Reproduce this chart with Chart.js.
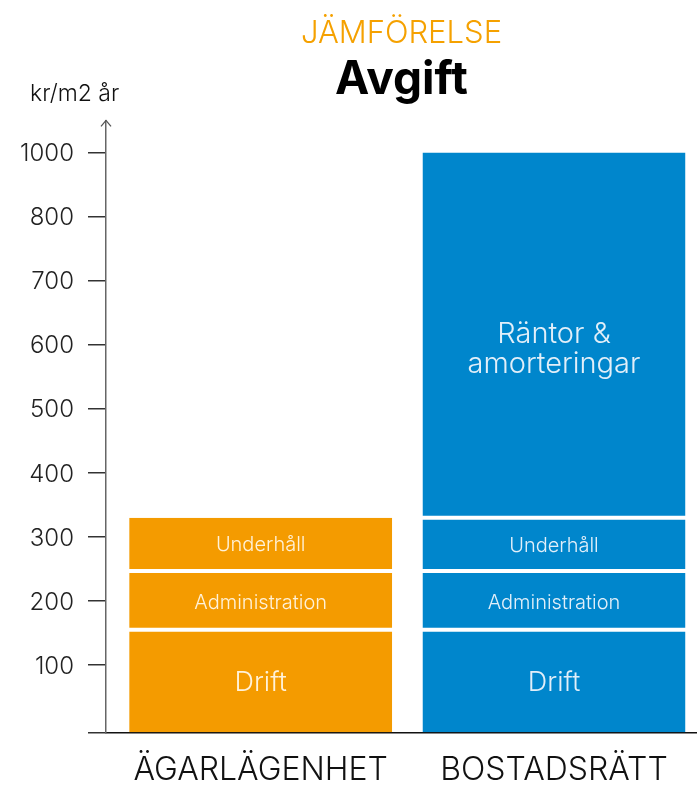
<!DOCTYPE html>
<html><head><meta charset="utf-8">
<script src="https://cdn.jsdelivr.net/npm/chart.js@4.4.1/dist/chart.umd.min.js"></script>
<style>html,body{margin:0;padding:0;background:#fff}</style>
</head><body>
<canvas id="c" width="697" height="785" style="display:block;width:697px;height:785px"></canvas>
<script>
// ---- data ----
const categories = ['ÄGARLÄGENHET', 'BOSTADSRÄTT'];
const segmentNames = ['Drift', 'Administration', 'Underhåll', 'Räntor & amorteringar'];
const segmentLines = [['Drift'], ['Administration'], ['Underhåll'], ['Räntor &', 'amorteringar']];
const drift = [155, 155];
const administration = [92, 92];
const underhall = [83, 83];
const rantor = [null, 570];
const tickValues = [100, 200, 300, 400, 500, 600, 700, 800, 900];
const tickLabels = ['100', '200', '300', '400', '500', '600', '700', '800', '1000'];
const titleText = 'JÄMFÖRELSE';
const subtitleText = 'Avgift';
const unitText = 'kr/m2 år';

// ---- styles ----
const FONT = 'Inter, Roboto, "Liberation Sans", sans-serif';
const barColors = ['#F49B00', '#0086CC'];
const textColors = ['#FFF2D9', '#E2EFF9'];
const labelSizes = [27, 20, 20, 29];
const labelLH = 1.05;
const labelDy = [1, 2.5, 1.5, 15];
const GAP = 2;
const Y_MIN = -6, Y_MAX = 950;
const series = [drift, administration, underhall, rantor];

function isTop(d, i) {
  for (let k = d + 1; k < series.length; k++) if (series[k][i] != null) return false;
  return true;
}

const segmentLabelPlugin = {
  id: 'segmentLabels',
  afterDatasetsDraw(chart) {
    const ctx = chart.ctx;
    ctx.save();
    ctx.textAlign = 'center';
    ctx.textBaseline = 'middle';
    series.forEach((vals, d) => {
      const meta = chart.getDatasetMeta(d);
      meta.data.forEach((bar, i) => {
        if (vals[i] == null) return;
        const p = bar.getProps(['x', 'y', 'base'], true);
        const top = p.y + (isTop(d, i) ? 0 : GAP);
        const bot = p.base - (d === 0 ? 0 : GAP);
        const cy = (top + bot) / 2 + labelDy[d];
        const lines = segmentLines[d];
        const size = labelSizes[d];
        const lh = size * labelLH;
        ctx.font = '300 ' + size + 'px ' + FONT;
        ctx.fillStyle = textColors[i];
        lines.forEach((t, li) => {
          ctx.fillText(t, p.x, cy + (li - (lines.length - 1) / 2) * lh);
        });
      });
    });
    ctx.restore();
  }
};

const decorPlugin = {
  id: 'decor',
  afterDraw(chart) {
    const ctx = chart.ctx;
    const a = chart.chartArea;
    ctx.save();
    // axis arrow
    ctx.strokeStyle = '#555';
    ctx.lineWidth = 1.3;
    ctx.beginPath();
    ctx.moveTo(a.left - 5, a.top + 6);
    ctx.lineTo(a.left, a.top);
    ctx.lineTo(a.left + 5, a.top + 6);
    ctx.stroke();
    // unit label
    ctx.fillStyle = '#111';
    ctx.font = '300 23px ' + FONT;
    ctx.textAlign = 'left';
    ctx.textBaseline = 'alphabetic';
    ctx.fillText(unitText, 30, 100.5);
    ctx.restore();
  }
};

new Chart(document.getElementById('c'), {
  type: 'bar',
  data: {
    datasets: series.map((vals, d) => ({
      label: segmentNames[d],
      data: vals.map((v, i) => ({ x: i, y: v })),
      backgroundColor: barColors,
      borderColor: '#ffffff',
      borderSkipped: false,
      borderWidth: (c) => ({ top: isTop(d, c.dataIndex) ? 0 : GAP, bottom: d === 0 ? 0 : GAP, left: 0, right: 0 }),
      base: d === 0 ? Y_MIN : undefined,
      barThickness: 263,
      inflateAmount: 0
    }))
  },
  options: {
    responsive: false,
    animation: false,
    layout: { padding: 0 },
    plugins: {
      legend: { display: false },
      tooltip: { enabled: false },
      title: {
        display: true, text: titleText, color: '#F5A100', fullSize: false,
        font: { family: FONT, size: 31, weight: 300 },
        padding: { top: 15, bottom: 0 }
      },
      subtitle: {
        display: true, text: subtitleText, color: '#000', fullSize: false,
        font: { family: FONT, size: 46, weight: 'bold' },
        padding: { top: 0, bottom: 13 }
      }
    },
    scales: {
      x: {
        type: 'linear', min: -0.5274, max: 1.4876, stacked: true, offset: false,
        afterBuildTicks: (s) => { s.ticks = categories.map((_, i) => ({ value: i })); },
        afterFit: (s) => { s.height = 52; },
        ticks: {
          callback: (v) => categories[v] ?? '',
          color: '#111', padding: 18, maxRotation: 0, autoSkip: false,
          font: { family: FONT, size: 32, weight: 300 }
        },
        grid: { display: false, drawTicks: false, offset: false },
        border: { display: true, color: '#111', width: 1.5 }
      },
      y: {
        type: 'linear', min: Y_MIN, max: Y_MAX, stacked: true,
        afterBuildTicks: (s) => { s.ticks = [Y_MIN, ...tickValues].map(v => ({ value: v })); },
        afterFit: (s) => { s.width = 106; },
        ticks: {
          callback: (v, i) => (i === 0 ? '' : tickLabels[i - 1]),
          color: '#222', padding: 14, labelOffset: 1.5,
          font: { family: FONT, size: 24, weight: 300 }
        },
        grid: { drawOnChartArea: false, drawTicks: true, tickLength: 18, color: '#333', lineWidth: 1.5 },
        border: { display: true, color: '#666', width: 1.5 }
      }
    }
  },
  plugins: [segmentLabelPlugin, decorPlugin]
});
</script>
</body></html>
